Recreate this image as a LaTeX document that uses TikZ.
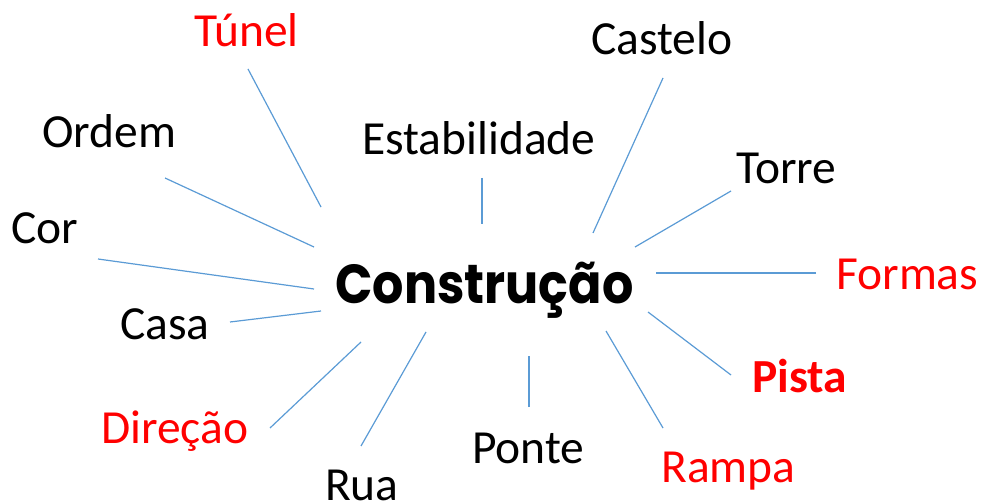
\documentclass[tikz,border=0pt]{standalone}
\usepackage{fontspec}
\setmainfont{Carlito}
\newfontfamily\geofont{Poppins}[UprightFont=* Bold]
\definecolor{linkblue}{HTML}{5B9BD5}
\definecolor{wordred}{HTML}{FF0000}
\begin{document}
\begin{tikzpicture}[x=1pt,y=-1pt,
  word/.style={anchor=base west,inner sep=0pt,font=\fontsize{47.5}{50}\selectfont},
  redword/.style={word,text=wordred},
  link/.style={draw=linkblue,line width=1.2pt}]
\useasboundingbox (0,0) rectangle (981,502);
% centre
\node[anchor=base west,inner sep=0pt,font=\geofont\fontsize{55}{60}\selectfont] (centre) at (335,303) {\scalebox{0.895}[1]{Construção}};
% words
\node[redword] (tunel) at (194,47) {Túnel};
\node[word] (ordem) at (42,148) {Ordem};
\node[word] (cor) at (11,244) {Cor};
\node[word] (casa) at (120,339) {Casa};
\node[redword] (direcao) at (101,443) {Direção};
\node[word] (rua) at (325,500) {Rua};
\node[word] (ponte) at (472,463) {Ponte};
\node[redword] (rampa) at (661,482) {Rampa};
\node[redword,font=\bfseries\fontsize{47.5}{50}\selectfont] (pista) at (752,392) {Pista};
\node[redword] (formas) at (836,289) {Formas};
\node[word] (torre) at (736,184) {Torre};
\node[word] (castelo) at (591,55) {Castelo};
\node[word] (estab) at (362,155) {Estabilidade};
% connector ends
\coordinate (tunelA) at (248,69);   \coordinate (tunelB) at (321,207);
\coordinate (ordemA) at (165,178);  \coordinate (ordemB) at (314,247);
\coordinate (corA) at (98,259);     \coordinate (corB) at (314,289);
\coordinate (casaA) at (230,322);   \coordinate (casaB) at (321,311);
\coordinate (direcaoA) at (270,428);\coordinate (direcaoB) at (361,342);
\coordinate (ruaA) at (361,446);    \coordinate (ruaB) at (426,332);
\coordinate (ponteA) at (529,407);  \coordinate (ponteB) at (529,356);
\coordinate (rampaA) at (663,428);  \coordinate (rampaB) at (606,331);
\coordinate (pistaA) at (731,375);  \coordinate (pistaB) at (648,312);
\coordinate (formasA) at (816,273); \coordinate (formasB) at (656,273);
\coordinate (torreA) at (731,191);  \coordinate (torreB) at (635,247);
\coordinate (casteloA) at (663,78); \coordinate (casteloB) at (593,233);
\coordinate (estabA) at (482,178);  \coordinate (estabB) at (482,224);
% connectors
\foreach \w in {tunel,ordem,cor,casa,direcao,rua,ponte,rampa,pista,formas,torre,castelo,estab}
  \draw[link] (\w A) -- (\w B);
\end{tikzpicture}
\end{document}
